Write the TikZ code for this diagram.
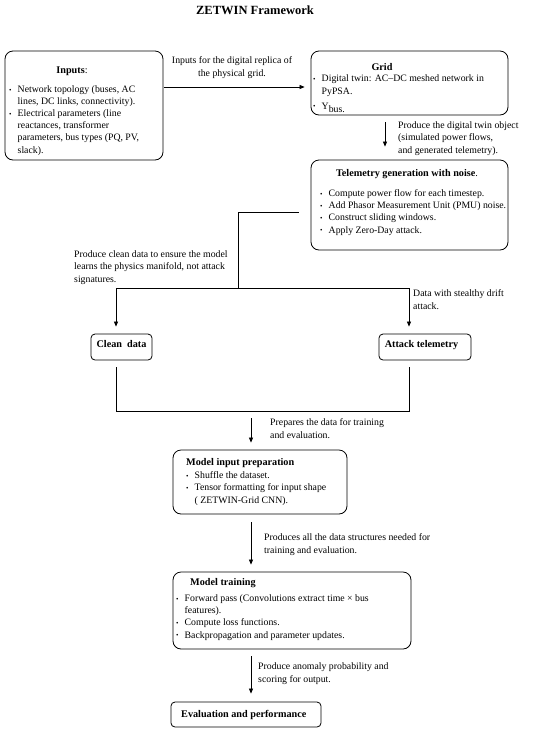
\documentclass[tikz,border=0pt]{standalone}
\usepackage{fontspec}
\setmainfont{Liberation Serif}
\usetikzlibrary{arrows.meta}
\newcommand\bul{\makebox[8.5pt][l]{\raisebox{0.3pt}{\scriptsize •}}}
\newcommand\ind{\hspace*{8.5pt}}
\begin{document}
\begin{tikzpicture}[x=1pt,y=-1pt,
  box/.style={draw, line width=0.8pt, rounded corners=8pt, inner sep=0pt},
  txt/.style={inner sep=0pt, align=left, font=\fontsize{9.8}{12.1}\selectfont, anchor=base west},
  ttl/.style={inner sep=0pt, font=\fontsize{10.2}{12}\selectfont\bfseries, anchor=base},
  conn/.style={line width=0.7pt},
  arr/.style={conn, -{Triangle[length=5pt,width=4pt]}}]
\useasboundingbox (0,0) rectangle (550,732);
% title
\node[inner sep=0pt, font=\fontsize{12.5}{14}\selectfont\bfseries, anchor=base] (title) at (255,14) {ZETWIN Framework};
% boxes
\node[box, minimum width=158, minimum height=109] (inputs) at (84,105.5) {};
\node[box, minimum width=197, minimum height=64] (grid) at (409.5,83) {};
\node[box, minimum width=197, minimum height=90] (tel) at (409.5,205) {};
\node[box, rounded corners=4pt, minimum width=61, minimum height=26] (clean) at (121.5,347) {};
\node[box, rounded corners=4pt, minimum width=92, minimum height=26] (attack) at (425,347) {};
\node[box, minimum width=174, minimum height=64] (prep) at (260,482) {};
\node[box, minimum width=238, minimum height=77] (train) at (292,610.5) {};
\node[box, rounded corners=4pt, minimum width=150, minimum height=25] (eval) at (246,714.5) {};
% box texts (multi-line nodes: anchor at baseline of last line)
\node[ttl] (inputsT) at (72,73) {Inputs\textmd{:}};
\node[txt] (inputsL) at (9,153) {\bul Network topology (buses, AC\\\ind lines, DC links, connectivity).\\\bul Electrical parameters (line\\\ind reactances, transformer\\\ind parameters, bus types (PQ, PV,\\\ind slack).};
\node[ttl] (gridT) at (382,70) {Grid};
\node[txt] (gridL) at (313,94) {\bul Digital twin: AC–DC meshed network in\\\ind PyPSA.};
\node[txt] (gridY) at (313,109) {\bul Y$_{\textrm{bus.}}$};
\node[ttl] (telT) at (407,176) {Telemetry generation with noise\textmd{.}};
\node[txt] (telL) at (320,233) {\bul Compute power flow for each timestep.\\\bul Add Phasor Measurement Unit (PMU) noise.\\\bul Construct sliding windows.\\\bul Apply Zero-Day attack.};
\node[ttl] (cleanT) at (121.5,347) {Clean\ \ data};
\node[ttl] (attackT) at (421.5,347) {Attack telemetry};
\node[ttl, anchor=base west] (prepT) at (186,465) {Model input preparation};
\node[txt] (prepL) at (186,503) {\bul Shuffle the dataset.\\\bul Tensor formatting for input shape\\\ind ( ZETWIN-Grid CNN).};
\node[ttl, anchor=base west] (trainT) at (190,585) {Model training};
\node[txt] (trainL) at (176,638) {\bul Forward pass (Convolutions extract time × bus\\\ind features).\\\bul Compute loss functions.\\\bul Backpropagation and parameter updates.};
\node[ttl, anchor=base west] (evalT) at (181,717) {Evaluation and performance};
% labels
\node[txt, align=center, anchor=base] (l1) at (232,76) {Inputs for the digital replica of\\the physical grid.};
\node[txt] (l2) at (398,153) {Produce the digital twin object\\(simulated power flows,\\and generated telemetry).};
\node[txt] (l3) at (74,282) {Produce clean data to ensure the model\\learns the physics manifold, not attack\\signatures.};
\node[txt] (l4) at (413,309) {Data with stealthy drift\\attack.};
\node[txt] (l5) at (270,438) {Prepares the data for training\\and evaluation.};
\node[txt] (l6) at (264,553) {Produces all the data structures needed for\\training and evaluation.};
\node[txt] (l7) at (258,682) {Produce anomaly probability and\\scoring for output.};
% connectors
\coordinate (a1) at ([xshift=1pt,yshift=18.5pt]inputs.east);
\draw[arr, shorten >=6pt] (a1) -- (a1 -| grid.west);
\coordinate (gx) at (385,0);
\draw[arr, shorten <=7pt, shorten >=13pt] (grid.south -| gx) -- (tel.north -| gx);
\coordinate (t1) at ([xshift=-12pt,yshift=-7pt]tel.west);
\coordinate (split) at (238,288);
\coordinate (cx) at (116,0);
\coordinate (ax) at (409,0);
\draw[conn] (t1) -| (split);
\draw[arr, shorten >=7pt] (split) -| (clean.north -| cx);
\draw[arr, shorten >=7pt] (split) -| (attack.north -| ax);
\coordinate (merge) at (251,411);
\draw[conn, shorten <=7pt] (clean.south -| cx) |- (merge);
\draw[conn, shorten <=7pt] (attack.south -| ax) |- (merge);
\draw[arr, shorten <=7pt, shorten >=7pt] (merge) -- (prep.north -| merge);
\draw[arr, shorten <=8pt, shorten >=7pt] (prep.south -| merge) -- (train.north -| merge);
\draw[arr, shorten <=7pt, shorten >=8pt] (train.south -| merge) -- (eval.north -| merge);
\end{tikzpicture}
\end{document}
